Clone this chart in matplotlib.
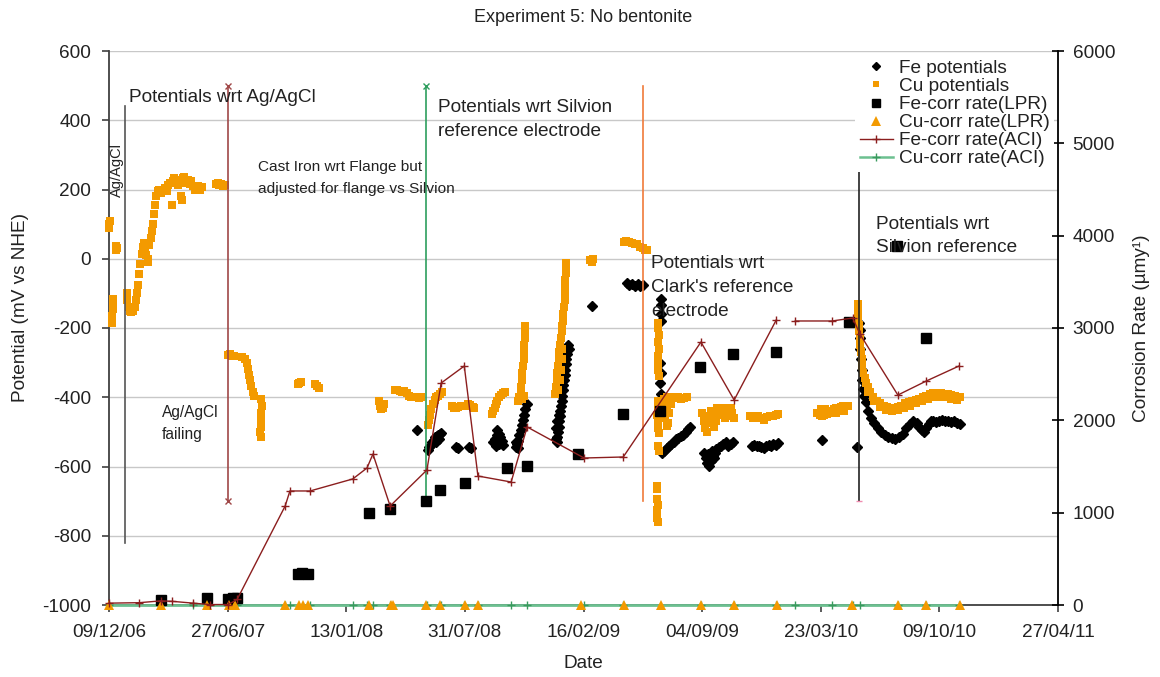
import matplotlib
matplotlib.use("Agg")
import matplotlib.pyplot as plt
import matplotlib.dates as mdates
from matplotlib.lines import Line2D
from matplotlib.ticker import FixedLocator, MultipleLocator
import numpy as np

plt.rcParams["font.family"] = ["Liberation Sans", "DejaVu Sans"]
plt.rcParams["axes.unicode_minus"] = False

# Experiment start; every series below is logged as days since this date
START = "2006-12-09"

# Cu electrode potential, (day, mV vs NHE)
cu_potentials = [
    (0, 100), (0, 88), (1, 108), (12, 38), (12, 25), (13, 32),
    (5, -185), (5, -165), (6, -145), (7, -125), (7, -115),
    (30, -100), (31, -120), (33, -138), (35, -150), (37, -155), (40, -152), (43, -140),
    (45, -120), (47, -100), (49, -75), (51, -45), (53, -15), (55, 15), (57, 35), (59, 45),
    (61, 35), (63, 10), (65, -10), (66, 0), (68, 40), (70, 60), (72, 80), (74, 100),
    (76, 130), (78, 155), (80, 180), (82, 195), (85, 198), (88, 190), (91, 200), (94, 205),
    (97, 195), (100, 212), (103, 218), (106, 155), (108, 225), (110, 232), (113, 218),
    (116, 212), (119, 228), (122, 180), (123, 170), (124, 232), (127, 235), (130, 220),
    (133, 228), (136, 215), (139, 225), (142, 210), (145, 200), (148, 205), (150, 210),
    (153, 200), (156, 208),
    (180, 215), (183, 218), (186, 212), (189, 215), (192, 210), (195, 213),
    (201, -278), (204, -276), (207, -280), (210, -282), (225, -285), (229, -290),
    (232, -300), (234, -318), (236, -335), (238, -350), (240, -368), (242, -385), (244, -395),
    (257, -405), (258, -425), (257, -445), (256, -465), (256, -485), (255, -500), (256, -515),
    (318, -362), (321, -358), (324, -355), (347, -362), (351, -368), (354, -372),
    (455, -410), (457, -425), (459, -435), (462, -430), (464, -420),
    (482, -378), (486, -380), (490, -383), (494, -385), (498, -382), (502, -388),
    (506, -395), (510, -398), (514, -400), (518, -398), (522, -402), (526, -400),
    (537, -480), (539, -465), (541, -450), (543, -435), (546, -420), (549, -408),
    (552, -400), (555, -395), (558, -390), (561, -385),
    (578, -425), (581, -430), (585, -432), (589, -428), (594, -425),
    (601, -425), (605, -420), (609, -422), (613, -428), (616, -430),
    (646, -448), (648, -440), (650, -430), (652, -420), (655, -410), (658, -400),
    (661, -393), (664, -388), (667, -385),
    (690, -410), (692, -400), (694, -385), (695, -370), (696, -350), (697, -330),
    (698, -310), (699, -290), (700, -270), (700, -250), (701, -230), (702, -210),
    (702, -195), (697, -405), (700, -395),
    (752, -390), (754, -370), (755, -350), (756, -330), (757, -310), (758, -290),
    (759, -270), (760, -250), (762, -230), (763, -210), (764, -195), (765, -180),
    (766, -160), (767, -140), (768, -120), (768, -100), (769, -80), (769, -60),
    (770, -40), (770, -20), (771, -12), (757, -380), (760, -350), (762, -320),
    (763, -290), (764, -260),
    (811, -5), (814, -8), (816, -2),
    (868, 48), (872, 50), (877, 47), (882, 45), (887, 44), (891, 42), (896, 35),
    (900, 30), (904, 25), (907, 25),
    (925, -186), (926, -200), (927, -220), (926, -240), (927, -260), (926, -280),
    (925, -300), (926, -320), (927, -340), (925, -410), (926, -430), (924, -450),
    (925, -470), (926, -490), (927, -503), (926, -540), (927, -555),
    (924, -655), (924, -665), (924, -695), (925, -710), (924, -725), (924, -750), (925, -760),
    (935, -405), (940, -400), (945, -402), (950, -400), (955, -403), (960, -400),
    (965, -405), (970, -402), (975, -400), (936, -420), (940, -435), (944, -445),
    (938, -460), (942, -475), (940, -482), (948, -420),
    (1000, -445), (1003, -470), (1005, -490), (1008, -500), (1010, -475), (1013, -455),
    (1017, -465), (1020, -485), (1023, -470), (1026, -450), (1030, -440), (1034, -445),
    (1038, -460), (1042, -455), (1045, -440), (1048, -430), (1051, -445), (1053, -460),
    (1025, -432), (1035, -430), (1015, -440),
    (1081, -455), (1085, -460), (1090, -458), (1095, -455), (1100, -460), (1105, -466),
    (1110, -458), (1115, -455), (1120, -455), (1125, -450), (1128, -448),
    (1194, -445), (1198, -450), (1202, -455), (1206, -450), (1210, -448), (1214, -445),
    (1218, -440), (1222, -435), (1226, -432), (1230, -430), (1234, -428), (1238, -425),
    (1242, -425), (1246, -425), (1200, -435), (1208, -435), (1225, -445), (1240, -440),
    (1262, -130), (1263, -150), (1263, -170), (1264, -190), (1265, -210), (1266, -230),
    (1267, -250), (1268, -270), (1269, -290), (1270, -310), (1272, -330), (1274, -345),
    (1276, -358), (1279, -370), (1283, -385), (1288, -398), (1294, -410), (1300, -418),
    (1306, -424), (1312, -428), (1318, -430), (1324, -430), (1330, -428), (1336, -424),
    (1342, -418), (1348, -414), (1354, -411), (1360, -408), (1366, -404), (1372, -400),
    (1378, -396), (1384, -392), (1390, -389), (1396, -387), (1402, -388), (1408, -390),
    (1414, -392), (1420, -394), (1426, -396), (1432, -398), (1435, -400),
    (1280, -385), (1290, -410), (1300, -428), (1310, -436), (1320, -440), (1330, -438),
    (1340, -430), (1350, -424), (1360, -418), (1370, -412), (1380, -406), (1390, -400),
    (1400, -398), (1410, -400), (1420, -404), (1430, -408),
]

# Cast iron electrode potential, (day, mV vs NHE)
fe_potentials = [
    (519, -495),
    (538, -552), (540, -545), (543, -538), (545, -530), (548, -523), (550, -516),
    (553, -512), (555, -508), (558, -506), (560, -503), (557, -520), (552, -528),
    (585, -544), (588, -546), (607, -544), (610, -546),
    (648, -530), (651, -520), (654, -510), (657, -505), (660, -515), (663, -525),
    (658, -535), (652, -540), (665, -538), (655, -495),
    (686, -545), (688, -535), (690, -525), (692, -510), (694, -495), (696, -480),
    (698, -465), (700, -450), (702, -435), (704, -420), (686, -530), (690, -548),
    (753, -520), (755, -530), (756, -515), (757, -500), (758, -485), (759, -470),
    (760, -455), (761, -440), (762, -425), (763, -410), (764, -395), (765, -380),
    (766, -365), (767, -350), (768, -335), (769, -320), (770, -305), (771, -290),
    (772, -275), (773, -262), (774, -250), (754, -490), (756, -470), (758, -450),
    (770, -270), (775, -260),
    (814, -136),
    (873, -70), (877, -75), (882, -72), (887, -78), (892, -74), (896, -80), (900, -77),
    (930, -115), (930, -135), (930, -160), (930, -180), (929, -300), (930, -330),
    (929, -360), (930, -390), (929, -410),
    (932, -560), (936, -555), (940, -548), (944, -540), (948, -535), (952, -528),
    (956, -522), (960, -518), (964, -512), (968, -508), (972, -500), (976, -492), (979, -485),
    (1003, -560), (1006, -575), (1009, -590), (1012, -598), (1015, -585), (1018, -570),
    (1021, -560), (1024, -550), (1028, -545), (1032, -540), (1036, -535), (1040, -530),
    (1044, -540), (1048, -535), (1052, -530), (1010, -565), (1016, -555), (1020, -575),
    (1084, -540), (1088, -538), (1092, -542), (1096, -540), (1100, -545), (1104, -548),
    (1108, -540), (1112, -537), (1116, -540), (1120, -535), (1124, -538), (1128, -532),
    (1202, -523), (1261, -543),
    (1265, -185), (1266, -205), (1266, -230), (1267, -260), (1268, -290), (1269, -320),
    (1270, -350), (1271, -375), (1273, -395), (1276, -415), (1280, -440), (1285, -460),
    (1290, -475), (1296, -490), (1302, -500), (1308, -508), (1314, -515), (1320, -518),
    (1326, -520), (1332, -515), (1338, -505), (1344, -490), (1350, -478), (1356, -470),
    (1362, -475), (1366, -485), (1370, -495), (1374, -500), (1378, -490), (1382, -478),
    (1386, -470), (1390, -468), (1395, -472), (1400, -468), (1405, -466), (1410, -470),
    (1415, -468), (1420, -472), (1425, -470), (1430, -474), (1435, -476),
]

# Corrosion rates, (day, um/y)
fe_rate_lpr = [
    (88, 54), (165, 76), (201, 65), (209, 76), (216, 76), (319, 336), (325, 347),
    (336, 336), (438, 996), (474, 1040), (534, 1126), (558, 1245), (600, 1321),
    (671, 1484), (705, 1505), (791, 1635), (867, 2069), (929, 2101), (996, 2578),
    (1052, 2718), (1125, 2740), (1248, 3065), (1329, 3888), (1377, 2892),
]
cu_rate_lpr = [
    (0, 4), (88, 3), (165, 5), (202, 4), (212, 3), (297, 4), (320, 5), (327, 3),
    (336, 4), (438, 5), (475, 3), (479, 4), (534, 3), (558, 4), (600, 5), (622, 3),
    (796, 4), (868, 3), (931, 5), (998, 4), (1054, 3), (1126, 4), (1253, 3),
    (1330, 4), (1377, 3), (1435, 4),
]
fe_rate_aci = [
    (0, 20), (51, 25), (88, 45), (106, 40), (142, 20), (170, 5), (201, 5), (216, 60),
    (297, 1072), (305, 1235), (339, 1235), (411, 1365), (435, 1484), (445, 1635),
    (474, 1072), (536, 1462), (560, 2404), (599, 2588), (622, 1397), (678, 1332),
    (705, 1928), (801, 1592), (867, 1603), (998, 2848), (1054, 2220), (1125, 3087),
    (1140, None),
    (1157, 3076), (1219, 3076), (1254, 3108), (1266, 2935), (1330, 2274),
    (1378, 2426), (1433, 2588),
]
cu_rate_aci = [
    (0, 3), (88, 3), (142, 3), (201, 3), (216, 3), (297, 3), (305, 3), (339, 3),
    (411, 3), (435, 3), (445, 3), (474, 3), (536, 3), (560, 3), (599, 3), (622, 3),
    (678, 3), (705, 3), (801, 3), (867, 3), (998, 3), (1054, 3), (1125, 3), (1157, 3),
    (1219, 3), (1254, 3), (1266, 3), (1330, 3), (1378, 3), (1433, 3),
]

# Reference-electrode changes: (day, lower mV, upper mV)
reference_changes = [(27, -820, 440), (200, -700, 500), (535, -700, 500),
                     (900, -700, 500), (1265, -700, 500)]

tick_days = [0, 200, 400, 600, 800, 1000, 1200, 1400, 1600]

W, H = 1160, 677
base = mdates.datestr2num(START)


def split(series):
    d = np.array([p[0] for p in series], float)
    v = np.array([np.nan if p[1] is None else p[1] for p in series], float)
    return base + d, v


def fx(px):
    return px / W


def fy(py):
    return 1 - py / H


fig = plt.figure(figsize=(W / 100, H / 100), dpi=100)
ax = fig.add_axes([fx(109), fy(605), (1058 - 109) / W, (605 - 51) / H])
ax2 = ax.twinx()

ORANGE = "#F39A00"
TXT = "#222222"
FS = 13.7

# potentials on the left axis
x, v = split(fe_potentials)
ax.plot(x, v, ls="none", marker="D", ms=4.7, color="black", zorder=3, clip_on=False)
x, v = split(cu_potentials)
ax.plot(x, v, ls="none", marker="s", ms=5.8, color=ORANGE, mew=0, zorder=4, clip_on=False)

# vertical markers where the reference electrode changed
ref_styles = [("#555555", None, None), ("#A04848", "x", "x"), ("#2E9E5E", None, "x"),
              ("#F07A3A", None, None), ("#222222", "_", None)]
for (d, lo, hi), (c, m_lo, m_hi) in zip(reference_changes, ref_styles):
    ax.plot([base + d, base + d], [lo, hi], color=c, lw=1.2, zorder=5)
    if m_lo:
        ax.plot([base + d], [lo], ls="none", marker=m_lo, ms=4, mew=1,
                color=c if m_lo == "x" else "#F08CB0", zorder=5)
    if m_hi:
        ax.plot([base + d], [hi], ls="none", marker=m_hi, ms=4, mew=1, color=c, zorder=5)

ax.set_ylim(-1000, 600)
ax.yaxis.set_major_locator(MultipleLocator(200))
ax.set_xlim(base, base + 1600)
ax.xaxis.set_major_locator(FixedLocator([base + t for t in tick_days]))
ax.xaxis.set_major_formatter(mdates.DateFormatter("%d/%m/%y"))
ax.yaxis.grid(True, color="#C8C8C8", lw=1.0, zorder=0)
ax.set_axisbelow(True)

for s in ("top", "right"):
    ax.spines[s].set_visible(False)
for s in ("left", "bottom"):
    ax.spines[s].set_color("#404040")
    ax.spines[s].set_linewidth(1.3)
ax.tick_params(axis="y", direction="out", length=5, width=1.2, color="#404040",
               labelsize=FS, labelcolor=TXT, pad=8)
ax.tick_params(axis="x", direction="out", length=5, width=1.2, color="#404040",
               labelsize=FS, labelcolor=TXT, pad=9)

# corrosion rates on the right axis
x, v = split(cu_rate_aci)
ax2.plot(x, v, color="#6CC090", lw=2.0, marker="+", ms=6, mew=1, mec="#3A9A5E",
         zorder=3, clip_on=False)
x, v = split(fe_rate_lpr)
ax2.plot(x, v, ls="none", marker="s", ms=6.5, color="black", zorder=4, clip_on=False)
x, v = split(cu_rate_lpr)
ax2.plot(x, v, ls="none", marker="^", ms=7, color=ORANGE, mew=0, zorder=4, clip_on=False)
x, v = split(fe_rate_aci)
ax2.plot(x, v, color="#8B1E1E", lw=1.0, marker="+", ms=6, mew=1, zorder=5, clip_on=False)

ax2.set_ylim(0, 6000)
ax2.yaxis.set_major_locator(MultipleLocator(1000))
for s in ("top", "left", "bottom"):
    ax2.spines[s].set_visible(False)
ax2.spines["right"].set_color("black")
ax2.spines["right"].set_linewidth(1.3)
ax2.tick_params(axis="y", direction="inout", length=9, width=1.2, color="black",
                labelsize=FS, labelcolor=TXT, pad=6)

handles = [
    Line2D([], [], ls="none", marker="D", ms=3.6, color="black"),
    Line2D([], [], ls="none", marker="s", ms=4, color=ORANGE, mew=0),
    Line2D([], [], ls="none", marker="s", ms=5.5, color="black"),
    Line2D([], [], ls="none", marker="^", ms=7, color=ORANGE, mew=0),
    Line2D([], [], color="#8B1E1E", lw=1.0, marker="+", ms=6, mew=1),
    Line2D([], [], color="#6CC090", lw=1.8, marker="+", ms=6, mew=1, mec="#3A9A5E"),
]
labels = ["Fe potentials", "Cu potentials", "Fe-corr rate(LPR)", "Cu-corr rate(LPR)",
          "Fe-corr rate(ACI)", "Cu-corr rate(ACI)"]
leg = ax2.legend(handles, labels, loc="upper left",
                 bbox_to_anchor=(fx(855), fy(55)), bbox_transform=fig.transFigure,
                 frameon=True, fancybox=False, facecolor="white", edgecolor="none",
                 framealpha=1, borderpad=0.25, borderaxespad=0, handlelength=1.75,
                 handletextpad=0.3, labelspacing=0.04, prop={"size": FS})
for t in leg.get_texts():
    t.set_color(TXT)
leg.set_zorder(20)

# titles and axis labels
fig.text(fx(583), fy(18), "Experiment 5: No bentonite", ha="center", va="center",
         size=13, color=TXT)
fig.text(fx(583), fy(663), "Date", ha="center", va="center", size=FS, color=TXT)
fig.text(fx(21), fy(307), "Potential (mV vs NHE)", rotation=90, ha="center",
         va="center", size=FS, color=TXT)
fig.text(fx(1142), fy(328), "Corrosion Rate (\u00b5my\u00b9)", rotation=90, ha="center",
         va="center", size=FS, color=TXT)

# notes on the reference electrodes
notes = [
    ("Potentials wrt Ag/AgCl", 129, 98, FS),
    ("Cast Iron wrt Flange but", 258, 167, 11.1),
    ("adjusted for flange vs Silvion", 258, 189, 11.1),
    ("Potentials wrt Silvion", 438, 108, FS),
    ("reference electrode", 438, 131, FS),
    ("Potentials wrt", 651, 263, FS),
    ("Clark's reference", 651, 287, FS),
    ("electrode", 651, 312, FS),
    ("Potentials wrt", 876, 224, FS),
    ("Silvion reference", 876, 248, FS),
    ("Ag/AgCl", 162, 412, 11.2),
    ("failing", 162, 434, 11.2),
]
for text, px, py, size in notes:
    fig.text(fx(px), fy(py), text, ha="left", va="center", size=size, color=TXT, zorder=30)
fig.text(fx(117), fy(170), "Ag/AgCl", rotation=90, ha="center", va="center",
         size=10.5, color=TXT, zorder=30)

fig.savefig("out.png", dpi=100)
